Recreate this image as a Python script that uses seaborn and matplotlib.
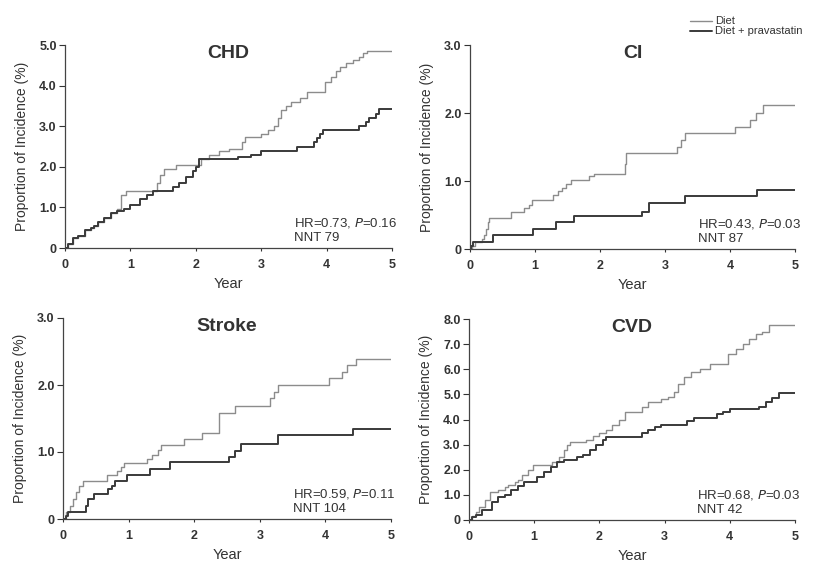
import matplotlib
matplotlib.use("Agg")
import matplotlib.pyplot as plt
import seaborn as sns

# step knots: (time in years, cumulative incidence %)
chd_diet_t = [0, 0.05, 0.12, 0.2, 0.3, 0.4, 0.45, 0.5, 0.6, 0.7, 0.8, 0.85, 0.93, 1.4, 1.45,
              1.52, 1.7, 2.08, 2.2, 2.35, 2.5, 2.7, 2.75, 3.0, 3.1, 3.2, 3.25, 3.3, 3.38, 3.45,
              3.6, 3.7, 3.97, 4.07, 4.15, 4.2, 4.3, 4.4, 4.5, 4.55, 4.62, 5.0]
chd_diet_v = [0, 0.1, 0.25, 0.3, 0.45, 0.5, 0.55, 0.65, 0.75, 0.85, 0.95, 1.3, 1.4, 1.6, 1.8,
              1.95, 2.05, 2.2, 2.3, 2.4, 2.45, 2.6, 2.73, 2.8, 2.9, 3.0, 3.2, 3.4, 3.5, 3.6,
              3.7, 3.85, 4.1, 4.2, 4.35, 4.45, 4.55, 4.62, 4.7, 4.8, 4.85, 4.85]
chd_prava_t = [0, 0.05, 0.12, 0.2, 0.3, 0.4, 0.45, 0.5, 0.6, 0.7, 0.8, 0.9, 1.0, 1.15, 1.25,
               1.35, 1.65, 1.75, 1.85, 1.95, 2.0, 2.05, 2.65, 2.85, 3.0, 3.55, 3.8, 3.85, 3.9,
               3.95, 4.5, 4.6, 4.65, 4.75, 4.8, 5.0]
chd_prava_v = [0, 0.1, 0.25, 0.3, 0.45, 0.5, 0.55, 0.65, 0.75, 0.85, 0.9, 0.95, 1.05, 1.2, 1.3,
               1.4, 1.5, 1.6, 1.75, 1.9, 2.0, 2.2, 2.25, 2.3, 2.4, 2.5, 2.6, 2.7, 2.8,
               2.9, 3.0, 3.1, 3.2, 3.3, 3.42, 3.42]

ci_diet_t = [0, 0.03, 0.08, 0.18, 0.22, 0.25, 0.27, 0.3, 0.63, 0.83, 0.9, 0.95, 1.28, 1.35,
             1.42, 1.48, 1.55, 1.83, 1.9, 2.38, 2.4, 3.18, 3.25, 3.3, 4.07, 4.3, 4.4, 4.5, 5.0]
ci_diet_v = [0, 0.05, 0.1, 0.15, 0.2, 0.3, 0.4, 0.46, 0.55, 0.6, 0.65, 0.72, 0.8, 0.85,
             0.9, 0.95, 1.02, 1.07, 1.1, 1.25, 1.41, 1.5, 1.6, 1.71, 1.8, 1.9, 2.0, 2.12, 2.12]
ci_prava_t = [0, 0.02, 0.05, 0.35, 0.97, 1.33, 1.6, 2.65, 2.75, 3.3, 4.42, 5.0]
ci_prava_v = [0, 0.05, 0.1, 0.2, 0.29, 0.39, 0.48, 0.55, 0.67, 0.78, 0.87, 0.87]

stroke_diet_t = [0, 0.05, 0.1, 0.15, 0.2, 0.25, 0.3, 0.67, 0.82, 0.88, 0.93, 1.28, 1.35, 1.45,
                 1.5, 1.85, 2.12, 2.38, 2.62, 3.15, 3.22, 3.27, 4.05, 4.25, 4.33, 4.47, 5.0]
stroke_diet_v = [0, 0.1, 0.2, 0.3, 0.4, 0.5, 0.57, 0.65, 0.72, 0.77, 0.83, 0.9, 0.95, 1.03,
                 1.1, 1.2, 1.28, 1.58, 1.69, 1.8, 1.9, 2.0, 2.1, 2.2, 2.3, 2.39, 2.39]
stroke_prava_t = [0, 0.05, 0.08, 0.35, 0.38, 0.48, 0.68, 0.75, 0.8, 0.98, 1.33, 1.63, 2.53,
                  2.62, 2.72, 3.28, 4.42, 5.0]
stroke_prava_v = [0, 0.05, 0.1, 0.2, 0.3, 0.37, 0.45, 0.5, 0.57, 0.65, 0.75, 0.85, 0.93,
                  1.02, 1.12, 1.25, 1.34, 1.34]

cvd_diet_t = [0, 0.05, 0.1, 0.15, 0.25, 0.32, 0.45, 0.55, 0.6, 0.7, 0.75, 0.82, 0.9, 0.98,
              1.28, 1.38, 1.45, 1.5, 1.55, 1.8, 1.9, 2.0, 2.1, 2.2, 2.3, 2.4, 2.65, 2.75, 2.95,
              3.05, 3.15, 3.2, 3.3, 3.4, 3.55, 3.7, 3.98, 4.1, 4.2, 4.3, 4.4, 4.5, 4.6, 5.0]
cvd_diet_v = [0, 0.15, 0.3, 0.5, 0.8, 1.1, 1.2, 1.3, 1.4, 1.5, 1.6, 1.8, 2.0, 2.2,
              2.3, 2.5, 2.8, 3.0, 3.1, 3.2, 3.35, 3.45, 3.6, 3.8, 4.0, 4.3, 4.5, 4.7, 4.8,
              4.9, 5.1, 5.4, 5.7, 5.9, 6.0, 6.2, 6.6, 6.8, 7.0, 7.2, 7.4, 7.5, 7.75, 7.75]
cvd_prava_t = [0, 0.05, 0.1, 0.2, 0.35, 0.45, 0.55, 0.65, 0.75, 0.85, 1.05, 1.15, 1.25, 1.35,
               1.45, 1.65, 1.75, 1.85, 1.95, 2.05, 2.1, 2.65, 2.75, 2.85, 2.95, 3.35, 3.45,
               3.8, 3.9, 4.0, 4.45, 4.55, 4.65, 4.75, 5.0]
cvd_prava_v = [0, 0.1, 0.2, 0.4, 0.7, 0.9, 1.0, 1.2, 1.35, 1.5, 1.7, 1.9, 2.1, 2.3,
               2.4, 2.5, 2.6, 2.8, 3.0, 3.2, 3.3, 3.45, 3.6, 3.7, 3.8, 3.95, 4.05,
               4.2, 4.3, 4.4, 4.5, 4.7, 4.85, 5.05, 5.05]

panel_titles = ["CHD", "CI", "Stroke", "CVD"]
panel_ymax = [5, 3, 3, 8]
panel_stats = [("0.73", "0.16", "79"), ("0.43", "0.03", "87"),
               ("0.59", "0.11", "104"), ("0.68", "0.03", "42")]
series_labels = ["Diet", "Diet + pravastatin"]

DIET_COLOR = "#8c8c8c"
PRAVA_COLOR = "#3a3a3a"
TEXT_COLOR = "#333333"

sns.set_theme(style="ticks")
plt.rcParams["font.family"] = ["Liberation Sans", "DejaVu Sans"]

fig = plt.figure(figsize=(8.14, 5.63), dpi=100)
W, H = 814, 563
# axes rectangles in pixels: left, top, right, bottom
rects = [(65, 45, 392, 248), (470, 45, 795, 249), (63, 318, 391, 519), (469, 319, 795, 520)]
curves = [
    (chd_diet_t, chd_diet_v, chd_prava_t, chd_prava_v),
    (ci_diet_t, ci_diet_v, ci_prava_t, ci_prava_v),
    (stroke_diet_t, stroke_diet_v, stroke_prava_t, stroke_prava_v),
    (cvd_diet_t, cvd_diet_v, cvd_prava_t, cvd_prava_v),
]

handles = None
for i, (l, t, r, b) in enumerate(rects):
    ax = fig.add_axes([l / W, 1 - b / H, (r - l) / W, (b - t) / H])
    dt, dv, pt, pv = curves[i]
    sns.lineplot(x=dt, y=dv, ax=ax, color=DIET_COLOR, linewidth=1.0,
                 drawstyle="steps-post", estimator=None, label=series_labels[0])
    sns.lineplot(x=pt, y=pv, ax=ax, color=PRAVA_COLOR, linewidth=1.4,
                 drawstyle="steps-post", estimator=None, label=series_labels[1])
    if handles is None:
        handles, labels = ax.get_legend_handles_labels()
    ax.get_legend().remove()

    ymax = panel_ymax[i]
    ax.set_xlim(0, 5)
    ax.set_ylim(0, ymax)
    ax.set_xticks(range(6))
    yt = list(range(ymax + 1))
    ax.set_yticks(yt)
    ax.set_yticklabels(["0" if v == 0 else f"{v:.1f}" for v in yt])
    ax.tick_params(labelsize=9, colors=TEXT_COLOR, width=0.8)
    ax.tick_params(axis="y", length=4, pad=2)
    ax.tick_params(axis="x", length=2, pad=6)
    for lab in ax.get_xticklabels() + ax.get_yticklabels():
        lab.set_fontweight("bold")
    for side in ["left", "bottom"]:
        ax.spines[side].set_color("#444444")
        ax.spines[side].set_linewidth(0.9)
    sns.despine(ax=ax)
    ax.set_xlabel("Year", fontsize=10.5, color=TEXT_COLOR, labelpad=4)
    ax.set_ylabel("Proportion of Incidence (%)", fontsize=10, color=TEXT_COLOR, labelpad=7)

    ax.text(0.5, 1.0, panel_titles[i], transform=ax.transAxes, ha="center", va="top",
            fontsize=14, fontweight="bold", color=TEXT_COLOR)
    hr, p, nnt = panel_stats[i]
    ax.text(0.70, 0.02, f"HR={hr}, $\\it{{P}}$={p}\nNNT {nnt}", transform=ax.transAxes,
            ha="left", va="bottom", fontsize=9.5, color=TEXT_COLOR, linespacing=1.2)

fig.legend(handles, labels, loc="upper left", bbox_to_anchor=(686 / W, 1 - 12 / H),
           frameon=False, fontsize=8, handlelength=1.9, handletextpad=0.35,
           labelspacing=0.0, borderaxespad=0, labelcolor=TEXT_COLOR)

fig.savefig("out.png", dpi=100)
